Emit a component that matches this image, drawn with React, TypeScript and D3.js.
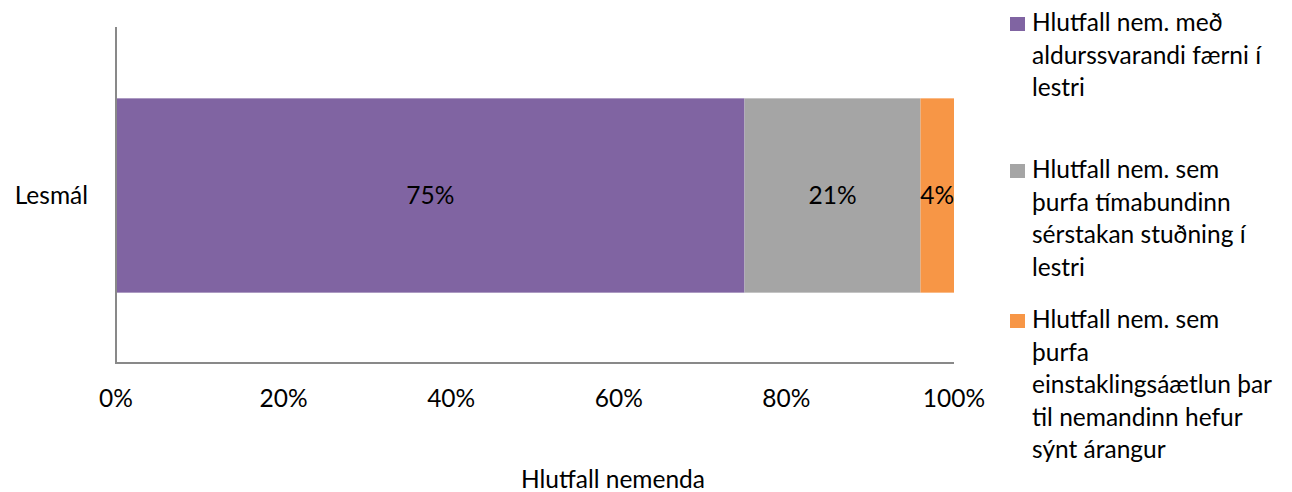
import React from "react";
import * as d3 from "d3";

const categories = ["Lesmál"];
const seriesNames = [
  ["Hlutfall nem. með", "aldurssvarandi færni í", "lestri"],
  ["Hlutfall nem. sem", "þurfa tímabundinn", "sérstakan stuðning í", "lestri"],
  ["Hlutfall nem. sem", "þurfa", "einstaklingsáætlun þar", "til nemandinn hefur", "sýnt árangur"],
];
const seriesValues = [75, 21, 4];
const seriesColors = ["#8064A2", "#A5A5A5", "#F79646"];
const xTicks = [0, 20, 40, 60, 80, 100];
const xTitle = "Hlutfall nemenda";

const W = 1292;
const H = 492;
const FONT = "Lato, 'Open Sans', sans-serif";
const FS = 24.5;

export default function App() {
  const x = d3.scaleLinear().domain([0, 100]).range([116, 954]);
  const y = d3.scaleBand().domain(categories).range([28, 363]).paddingInner(0.42).paddingOuter(0.21);
  const stack = d3.stack<number[]>().keys(seriesValues.map((_, i) => String(i))).value((d, k) => d[+k]);
  const stacked = stack([seriesValues]);
  const legendBaselines = [31, 178, 328];
  const lineH = 32.5;
  const bw = y.bandwidth();
  const y0 = y(categories[0]) as number;
  return (
    <svg width={W} height={H} style={{ position: "absolute", left: 0, top: 0, fontFamily: FONT }}>
      <rect width={W} height={H} fill="#fff" />
      {stacked.map((s, i) => {
        const d = s[0];
        const x0 = x(d[0]);
        const x1 = x(d[1]);
        return (
          <g key={i}>
            <rect x={x0} y={y0} width={x1 - x0} height={bw} fill={seriesColors[i]} />
            <text x={(x0 + x1) / 2} y={y0 + bw / 2 + 8} textAnchor="middle" fontSize={FS} fill="#000">
              {seriesValues[i]}%
            </text>
          </g>
        );
      })}
      <line x1={116} x2={116} y1={27} y2={364} stroke="#898989" strokeWidth={2} />
      <line x1={115} x2={954} y1={363} y2={363} stroke="#898989" strokeWidth={2} />
      {xTicks.map((t) => (
        <text key={t} x={x(t)} y={407} textAnchor="middle" fontSize={FS} fill="#000">
          {t}%
        </text>
      ))}
      <text x={613} y={488} textAnchor="middle" fontSize={FS} fill="#000">
        {xTitle}
      </text>
      {categories.map((c) => (
        <text key={c} x={88} y={(y(c) as number) + bw / 2 + 8} textAnchor="end" fontSize={FS} fill="#000">
          {c}
        </text>
      ))}
      {seriesNames.map((lines, i) => (
        <g key={i}>
          <rect x={1010} y={legendBaselines[i] - 14} width={15} height={14} fill={seriesColors[i]} />
          {lines.map((l, j) => (
            <text key={j} x={1032} y={legendBaselines[i] + j * lineH} fontSize={FS} fill="#000">
              {l}
            </text>
          ))}
        </g>
      ))}
    </svg>
  );
}
